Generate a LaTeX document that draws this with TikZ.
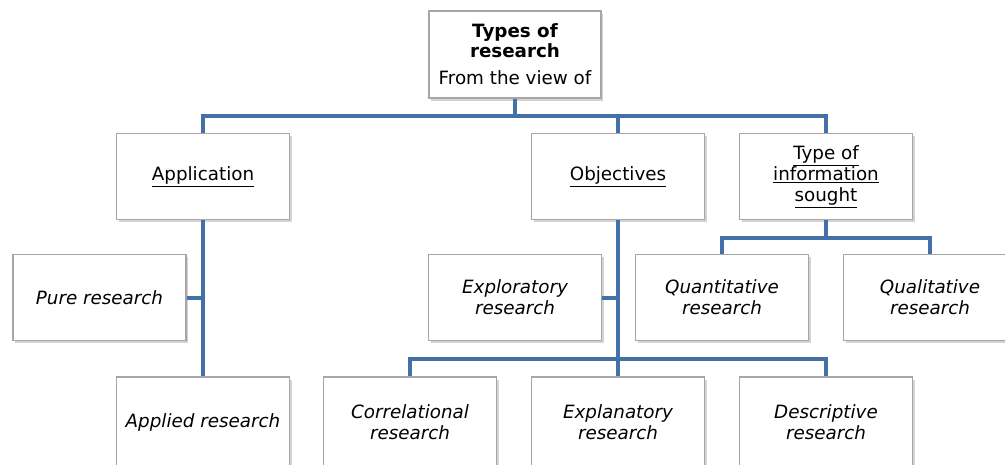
\documentclass[tikz,border=0pt]{standalone}
\usepackage{fontspec}
\setmainfont{DejaVu Sans}
\usetikzlibrary{shadows}
\definecolor{linkblue}{HTML}{4470A8}
\definecolor{boxgray}{HTML}{A6A6A6}
\tikzset{
  box/.style={draw=boxgray, line width=1.2pt, fill=white, minimum width=173pt, minimum height=86pt,
    align=center, inner sep=2pt, font=\fontsize{18.3}{21}\selectfont,
    drop shadow={opacity=0.35, shadow xshift=2pt, shadow yshift=-2.5pt}},
  link/.style={draw=linkblue, line width=4pt}
}
\begin{document}
\begin{tikzpicture}[x=1pt,y=-1pt]
\useasboundingbox (0,0) rectangle (1005,464);
\coordinate (t1) at (515,116);
\coordinate (ob1) at (618,359);
\coordinate (ti1) at (826,238);
% nodes
\node[box, minimum width=172pt, minimum height=87pt] (top) at (515,54.5) {};
\node[font=\fontsize{18.3}{20}\selectfont\bfseries, align=center] (toptitle) at (515,41) {Types of\\research};
\node[font=\fontsize{18.3}{21}\selectfont] (topsub) at (515,78) {From the view of};
\node[box] (app) at (203,176.5) {\underline{Application}};
\node[box] (obj) at (618,176.5) {\underline{Objectives}};
\node[box] (tis) at (826,176.5) {\underline{Type of}\\\underline{information}\\\underline{sought}};
\node[box] (pure) at (99.5,297.5) {\itshape Pure research};
\node[box] (expl) at (515,297.5) {\itshape Exploratory\\\itshape research};
\node[box] (quan) at (722,297.5) {\itshape Quantitative\\\itshape research};
\node[box] (qual) at (930,297.5) {\itshape Qualitative\\\itshape research};
\node[box, minimum height=90pt] (appl) at (203,422) {\itshape Applied research};
\node[box, minimum height=90pt] (corr) at (410,422) {\itshape Correlational\\\itshape research};
\node[box, minimum height=90pt] (expn) at (618,422) {\itshape Explanatory\\\itshape research};
\node[box, minimum height=90pt] (desc) at (826,422) {\itshape Descriptive\\\itshape research};
% links
\draw[link] (top.south) -- (t1);
\draw[link] (app.north) |- (t1) -| (tis.north);
\draw[link] (t1) -| (obj.north);
\draw[link] (app.south) -- (appl.north);
\draw[link] (pure.east) -- (pure.east -| app.south);
\draw[link] (obj.south) -- (ob1);
\draw[link] (corr.north) |- (ob1) -| (desc.north);
\draw[link] (ob1) -- (expn.north);
\draw[link] (expl.east) -- (expl.east -| obj.south);
\draw[link] (tis.south) -- (ti1);
\draw[link] (quan.north) |- (ti1) -| (qual.north);
\end{tikzpicture}
\end{document}
